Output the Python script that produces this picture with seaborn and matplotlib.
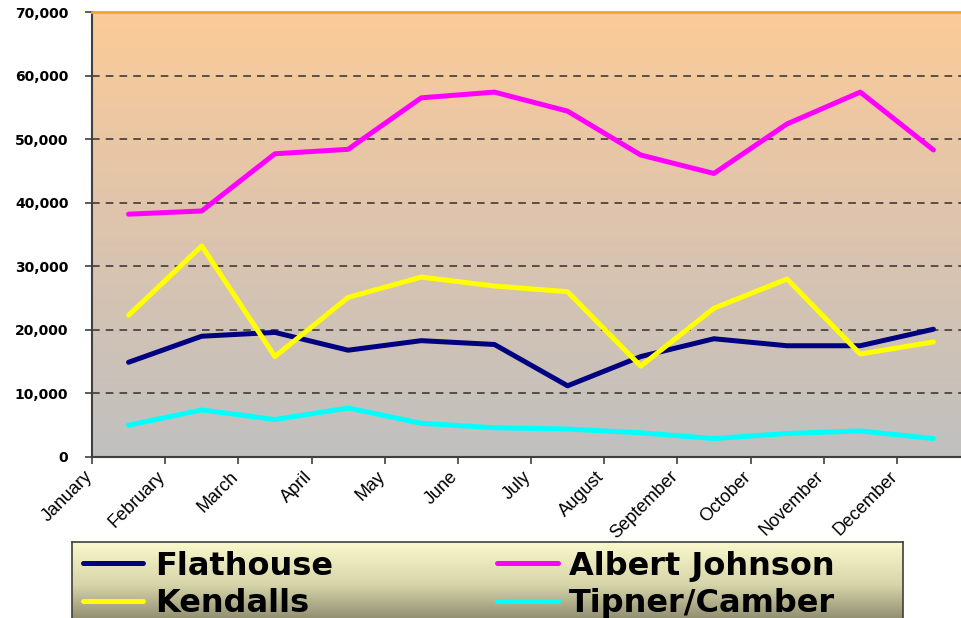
import numpy as np
import pandas as pd
import matplotlib
matplotlib.use("Agg")
import matplotlib.pyplot as plt
import matplotlib.transforms as mtransforms
from matplotlib.colors import LinearSegmentedColormap
import seaborn as sns

# ------------------------ 数据 ------------------------
months = ["January", "February", "March", "April", "May", "June",
          "July", "August", "September", "October", "November", "December"]
flathouse = [14900, 19000, 19600, 16800, 18300, 17700, 11200, 15800, 18600, 17500, 17500, 20100]
albert_johnson = [38200, 38700, 47700, 48400, 56500, 57400, 54400, 47500, 44600, 52400, 57400, 48300]
kendalls = [22300, 33200, 15800, 25100, 28300, 26900, 26000, 14300, 23400, 28000, 16200, 18100]
tipner_camber = [5000, 7400, 5900, 7700, 5300, 4600, 4400, 3800, 2900, 3700, 4100, 2900]

series_names = ["Flathouse", "Albert Johnson", "Kendalls", "Tipner/Camber"]
series_values = [flathouse, albert_johnson, kendalls, tipner_camber]
colors = {"Flathouse": "#000080", "Albert Johnson": "#FF00FF",
          "Kendalls": "#FFFF00", "Tipner/Camber": "#00FFFF"}
y_ticks = [0, 10000, 20000, 30000, 40000, 50000, 60000, 70000]

rows = []
for name, vals in zip(series_names, series_values):
    for i, v in enumerate(vals):
        rows.append({"pos": i + 0.5, "value": v, "series": name})
df = pd.DataFrame(rows)

# ------------------------ 画布 ------------------------
sns.set_style("white")
plt.rcParams["text.color"] = "black"
plt.rcParams["xtick.color"] = "black"
plt.rcParams["ytick.color"] = "black"

W, H = 961, 618
fig = plt.figure(figsize=(W / 100, H / 100), dpi=100)
ax = fig.add_axes([92 / W, (H - 457) / H, (970 - 92) / W, (457 - 12) / H])

# 渐变背景：顶部橙色 -> 底部灰色
bg = LinearSegmentedColormap.from_list("bg", ["#C0C0C0", "#DCC4AE", "#FCCB98"])
grad = np.linspace(0, 1, 256).reshape(-1, 1)
ax.imshow(grad, cmap=bg, origin="lower", aspect="auto",
          extent=[0, 12, 0, 70000], zorder=0)

for y in y_ticks[1:-1]:
    ax.axhline(y, color="#303030", lw=1.1, ls=(0, (5, 4)), zorder=1)

sns.lineplot(data=df, x="pos", y="value", hue="series", hue_order=series_names,
             palette=colors, lw=3.6, ax=ax, zorder=3, legend=True)
ax.get_legend().remove()

ax.set_xlim(0, 12)
ax.set_ylim(0, 70000)
ax.set_xlabel("")
ax.set_ylabel("")

ax.set_yticks(y_ticks)
ax.set_yticklabels([f"{v:,}" for v in y_ticks], fontsize=10, fontweight="bold",
                   family="DejaVu Sans")
ax.set_xticks(range(12))
ax.set_xticklabels(months, rotation=45, ha="right", rotation_mode="anchor",
                   fontsize=13, family="Liberation Sans")
ax.tick_params(axis="both", direction="out", length=5, width=1.2, color="#404040",
               left=True, bottom=True)
ax.tick_params(axis="y", pad=12)
ax.tick_params(axis="x", pad=3)

# x 轴标签略向左移
shift = mtransforms.ScaledTranslation(-6 / 72, 0, fig.dpi_scale_trans)
for lbl in ax.get_xticklabels():
    lbl.set_transform(lbl.get_transform() + shift)

for side in ["top", "right"]:
    ax.spines[side].set_color("#F5A623")
    ax.spines[side].set_linewidth(2)
ax.spines["left"].set_color("#404040")
ax.spines["left"].set_linewidth(1.5)
ax.spines["bottom"].set_color("#404040")
ax.spines["bottom"].set_linewidth(1.5)

# ------------------------ 图例 ------------------------
lax = fig.add_axes([72 / W, -10 / H, (903 - 72) / W, (618 - 542 + 10) / H])
lbg = LinearSegmentedColormap.from_list("lbg", ["#7E7C62", "#D6D4A8", "#FAF9CC"])
lax.imshow(grad, cmap=lbg, origin="lower", aspect="auto", extent=[0, 1, 0, 1])
lax.set_xlim(0, 1)
lax.set_ylim(0, 1)
lax.set_xticks([])
lax.set_yticks([])
for s in lax.spines.values():
    s.set_color("#404040")
    s.set_linewidth(1.2)

order = ["Flathouse", "Kendalls", "Albert Johnson", "Tipner/Camber"]
leg_handles = [plt.Line2D([], [], color=colors[n], lw=3.6, solid_capstyle="round") for n in order]
lax.legend(leg_handles, order, ncol=2, loc="upper left", bbox_to_anchor=(0.013, 0.90),
           frameon=False, handlelength=1.9, handletextpad=0.35, columnspacing=5.15,
           labelspacing=0.2, borderaxespad=0, borderpad=0,
           prop={"family": "DejaVu Sans", "weight": "bold", "size": 23})

fig.savefig("out.png", dpi=100)
